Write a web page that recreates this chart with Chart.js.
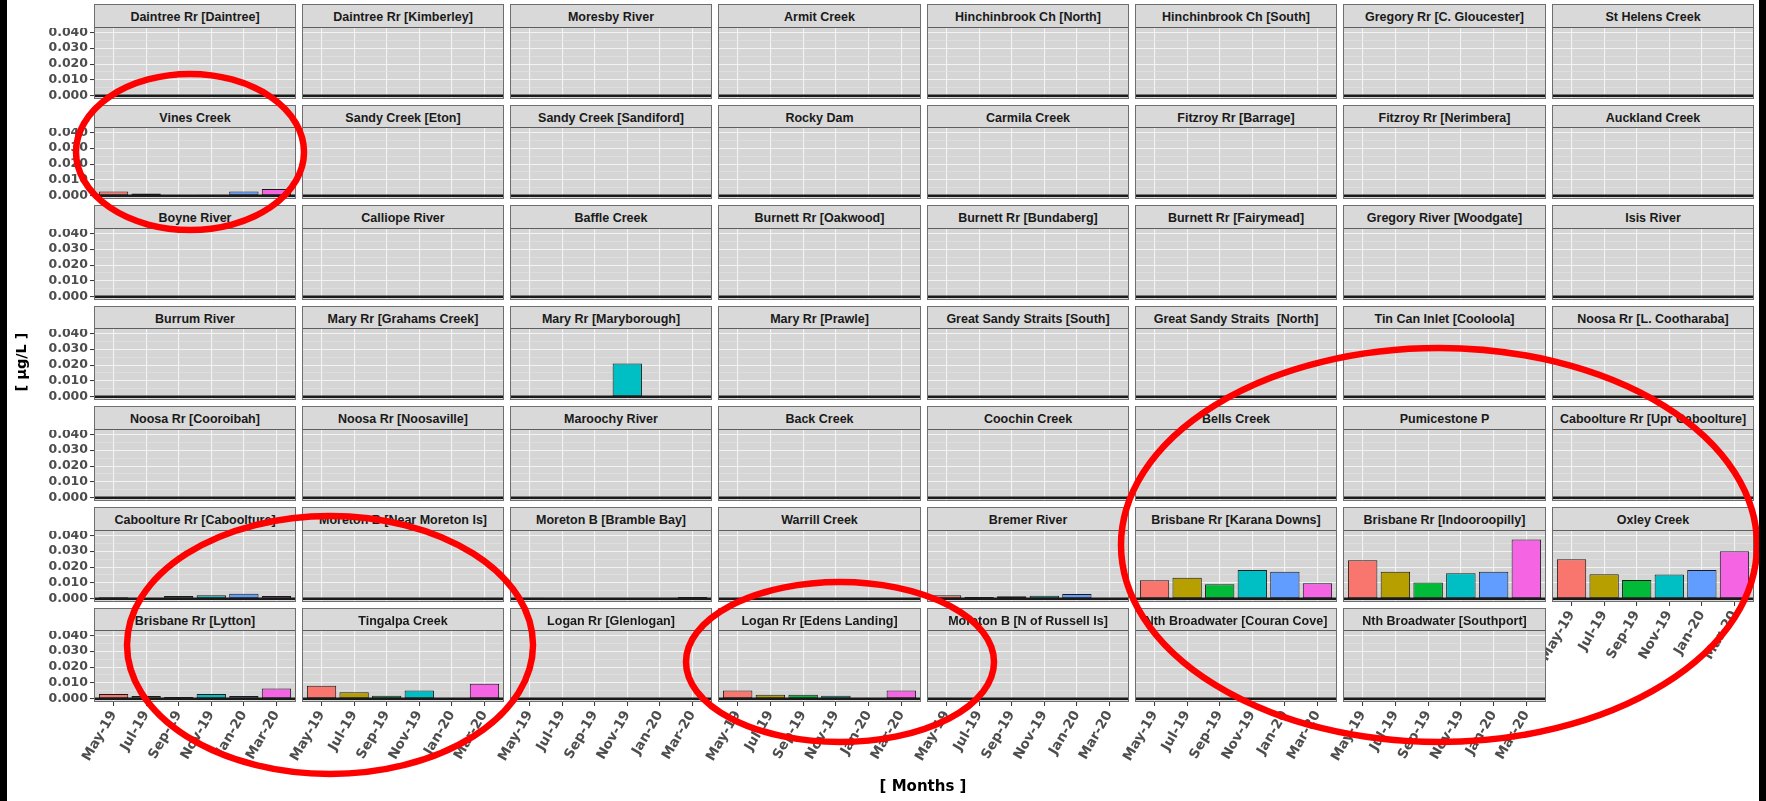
<!DOCTYPE html>
<html>
<head>
<meta charset="utf-8">
<script src="https://cdn.jsdelivr.net/npm/chart.js@4.4.0/dist/chart.umd.min.js"></script>
<style>
  body { margin: 0; background: #fff; }
  #page { position: relative; width: 1766px; height: 801px; overflow: hidden; background: #fff; font-family: 'Liberation Sans', Arial, sans-serif; }
  .strip { position: absolute; box-sizing: border-box; background: #d9d9d9; border-bottom: 1.5px solid #5e5e5e; padding-top: 4px; font-weight: bold; font-size: 12.5px; color: #1a1a1a; text-align: center; white-space: pre; z-index: 2; }
  .frame { position: absolute; box-sizing: border-box; border: 1.5px solid #6e6e6e; z-index: 3; }
  canvas.panel { position: absolute; z-index: 1; }
  .edge { position: absolute; top: 0; height: 801px; background: #000; z-index: 5; }
  .axis-title { position: absolute; font-family: 'DejaVu Sans', sans-serif; font-weight: bold; color: #000; white-space: pre; z-index: 2; }
  #marks { position: absolute; left: 0; top: 0; z-index: 4; pointer-events: none; }
</style>
</head>
<body>
<div id="page">
  <div class="edge" style="left:0;width:7px"></div>
  <div class="edge" style="left:1759px;width:7px"></div>
  <div class="axis-title" style="font-size:14.5px;left:21px;top:362px;transform:translate(-50%,-50%) rotate(-90deg)">[ µg/L ]</div>
  <div class="axis-title" style="font-size:15px;left:923px;top:786px;transform:translate(-50%,-50%)">[ Months ]</div>
  <svg id="marks" width="1766" height="801">
    <g fill="none" stroke="#ff0000" stroke-width="6.5">
      <ellipse cx="190" cy="152" rx="114" ry="78"/>
      <ellipse cx="330" cy="645" rx="203" ry="129"/>
      <ellipse cx="840" cy="662" rx="154" ry="80"/>
      <ellipse cx="1439" cy="545" rx="318" ry="197"/>
    </g>
  </svg>
</div>
<script>
// sampling months (x categories)
const months = ['May-19', 'Jul-19', 'Sep-19', 'Nov-19', 'Jan-20', 'Mar-20'];
const yMajor = [0, 0.01, 0.02, 0.03, 0.04];
const yTickLabels = ['0.000', '0.010', '0.020', '0.030', '0.040'];
const barColors = ['#F8766D', '#B79F00', '#00BA38', '#00BFC4', '#619CFF', '#F564E3'];

// facets, row by row, values in µg/L
const sitesRow1 = ['Daintree Rr [Daintree]', 'Daintree Rr [Kimberley]', 'Moresby River', 'Armit Creek',
  'Hinchinbrook Ch [North]', 'Hinchinbrook Ch [South]', 'Gregory Rr [C. Gloucester]', 'St Helens Creek'];
const valuesRow1 = [
  [0, 0, 0, 0, 0, 0], [0, 0, 0, 0, 0, 0], [0, 0, 0, 0, 0, 0], [0, 0, 0, 0, 0, 0],
  [0, 0, 0, 0, 0, 0], [0, 0, 0, 0, 0, 0], [0, 0, 0, 0, 0, 0], [0, 0, 0, 0, 0, 0]];

const sitesRow2 = ['Vines Creek', 'Sandy Creek [Eton]', 'Sandy Creek [Sandiford]', 'Rocky Dam',
  'Carmila Creek', 'Fitzroy Rr [Barrage]', 'Fitzroy Rr [Nerimbera]', 'Auckland Creek'];
const valuesRow2 = [
  [0.0027, 0.0015, 0, 0.0006, 0.0027, 0.0043], [0, 0, 0, 0, 0, 0], [0, 0, 0, 0, 0, 0], [0, 0, 0, 0, 0, 0],
  [0, 0, 0, 0, 0, 0], [0, 0, 0, 0, 0, 0], [0, 0, 0, 0, 0, 0], [0, 0, 0, 0, 0, 0]];

const sitesRow3 = ['Boyne River', 'Calliope River', 'Baffle Creek', 'Burnett Rr [Oakwood]',
  'Burnett Rr [Bundaberg]', 'Burnett Rr [Fairymead]', 'Gregory River [Woodgate]', 'Isis River'];
const valuesRow3 = [
  [0, 0, 0, 0, 0, 0], [0, 0, 0, 0, 0, 0], [0, 0, 0, 0, 0, 0], [0, 0, 0, 0, 0, 0],
  [0, 0, 0, 0, 0, 0], [0, 0, 0, 0, 0, 0], [0, 0, 0, 0, 0, 0], [0, 0, 0, 0, 0, 0]];

const sitesRow4 = ['Burrum River', 'Mary Rr [Grahams Creek]', 'Mary Rr [Maryborough]', 'Mary Rr [Prawle]',
  'Great Sandy Straits [South]', 'Great Sandy Straits  [North]', 'Tin Can Inlet [Cooloola]', 'Noosa Rr [L. Cootharaba]'];
const valuesRow4 = [
  [0, 0, 0, 0, 0, 0], [0, 0, 0, 0, 0, 0], [0, 0, 0, 0.021, 0, 0], [0, 0, 0, 0, 0, 0],
  [0, 0, 0, 0, 0, 0], [0, 0, 0, 0, 0, 0], [0, 0, 0, 0, 0, 0], [0, 0, 0, 0, 0, 0]];

const sitesRow5 = ['Noosa Rr [Cooroibah]', 'Noosa Rr [Noosaville]', 'Maroochy River', 'Back Creek',
  'Coochin Creek', 'Bells Creek', 'Pumicestone P', 'Caboolture Rr [Upr Caboolture]'];
const valuesRow5 = [
  [0, 0, 0, 0, 0, 0], [0, 0, 0, 0, 0, 0], [0, 0, 0, 0, 0.0005, 0], [0, 0, 0, 0.0005, 0, 0.0005],
  [0, 0, 0, 0.0004, 0, 0.0004], [0, 0, 0, 0, 0, 0.0005], [0, 0, 0, 0, 0, 0.0005], [0, 0, 0, 0, 0, 0]];

const sitesRow6 = ['Caboolture Rr [Caboolture]', 'Moreton B [Near Moreton Is]', 'Moreton B [Bramble Bay]', 'Warrill Creek',
  'Bremer River', 'Brisbane Rr [Karana Downs]', 'Brisbane Rr [Indooroopilly]', 'Oxley Creek'];
const valuesRow6 = [
  [0.001, 0, 0.0017, 0.0023, 0.0032, 0.0017], [0, 0, 0, 0, 0, 0],
  [0.0006, 0, 0, 0.0005, 0.0005, 0.0012], [0, 0, 0, 0, 0, 0],
  [0.0022, 0.0012, 0.0016, 0.002, 0.003, 0.0004], [0.0117, 0.0132, 0.0092, 0.0182, 0.017, 0.0098],
  [0.0243, 0.017, 0.0103, 0.0161, 0.017, 0.0373], [0.0249, 0.0155, 0.0119, 0.0153, 0.0182, 0.030]];

const sitesRow7 = ['Brisbane Rr [Lytton]', 'Tingalpa Creek', 'Logan Rr [Glenlogan]', 'Logan Rr [Edens Landing]',
  'Moreton B [N of Russell Is]', 'Nth Broadwater [Couran Cove]', 'Nth Broadwater [Southport]'];
const valuesRow7 = [
  [0.003, 0.0018, 0.0012, 0.003, 0.0018, 0.0065], [0.0082, 0.0042, 0.002, 0.0053, 0, 0.0095],
  [0, 0, 0, 0, 0, 0], [0.0052, 0.0025, 0.0026, 0.002, 0, 0.0052],
  [0, 0, 0, 0, 0, 0], [0, 0, 0, 0, 0, 0], [0, 0, 0, 0, 0, 0]];

const rows = [
  [sitesRow1, valuesRow1], [sitesRow2, valuesRow2], [sitesRow3, valuesRow3], [sitesRow4, valuesRow4],
  [sitesRow5, valuesRow5], [sitesRow6, valuesRow6], [sitesRow7, valuesRow7]];

// layout of the facet grid
const COL0 = 93.5, COL_STEP = 208.3, PANEL_W = 202.3;
const ROW0 = 4, ROW_STEP = 100.6, STRIP_H = 23.5, PLOT_H = 71;
const NCOL = 8;
const total = rows.reduce((n, r) => n + r[0].length, 0);

const yFont = { family: 'DejaVu Sans', size: 12.5, weight: 'bold' };
const xFont = { family: 'DejaVu Sans', size: 13.5, weight: 'bold' };
const yGrid = yMajor.flatMap((v, i) => i ? [(v + yMajor[i - 1]) / 2, v] : [v]);
const isMajor = v => yMajor.some(m => Math.abs(m - v) < 1e-9);

const panelBits = {
  id: 'panelBits',
  beforeDraw(chart) {
    const { ctx, chartArea: a } = chart;
    ctx.save();
    ctx.fillStyle = '#d5d5d5';
    ctx.fillRect(a.left, a.top, a.width, a.height);
    ctx.restore();
  },
  afterDatasetsDraw(chart) {
    const { ctx, chartArea: a, scales } = chart;
    const py = scales.y.getPixelForValue(0);
    ctx.save();
    ctx.strokeStyle = '#1a1a1a';
    ctx.lineWidth = 2.4;
    ctx.beginPath();
    ctx.moveTo(a.left, py);
    ctx.lineTo(a.right, py);
    ctx.stroke();
    ctx.restore();
  }
};

const page = document.getElementById('page');

rows.forEach(([sites, values], r) => {
  sites.forEach((site, c) => {
    const idx = r * NCOL + c;
    const isBottom = idx + NCOL >= total;
    const left = Math.round(COL0 + c * COL_STEP);
    const right = Math.round(COL0 + c * COL_STEP + PANEL_W);
    const w = right - left;
    const top = Math.round(ROW0 + r * ROW_STEP);
    const stripBottom = Math.round(ROW0 + r * ROW_STEP + STRIP_H);
    const bottom = Math.round(ROW0 + r * ROW_STEP + STRIP_H + PLOT_H);
    const plotH = bottom - stripBottom;

    const strip = document.createElement('div');
    strip.className = 'strip';
    strip.style.cssText = `left:${left}px;top:${top}px;width:${w}px;height:${stripBottom - top}px;line-height:${stripBottom - top - 5}px`;
    strip.textContent = site;
    page.appendChild(strip);

    const frame = document.createElement('div');
    frame.className = 'frame';
    frame.style.cssText = `left:${left}px;top:${top}px;width:${w}px;height:${bottom - top}px`;
    page.appendChild(frame);

    const leftPad = c === 0 ? 80 : (isBottom ? 24 : 0);
    const bottomPad = isBottom ? 90 : 0;
    const canvas = document.createElement('canvas');
    canvas.className = 'panel';
    canvas.width = w + leftPad;
    canvas.height = plotH + bottomPad;
    canvas.style.left = (left - leftPad) + 'px';
    canvas.style.top = stripBottom + 'px';
    page.appendChild(canvas);

    new Chart(canvas, {
      type: 'bar',
      data: {
        datasets: [{
          data: values[c].map((v, i) => ({ x: i + 1, y: v })),
          backgroundColor: barColors,
          borderColor: '#1a1a1a',
          borderWidth: 1,
          borderSkipped: false,
          barPercentage: 0.9,
          categoryPercentage: 1
        }]
      },
      options: {
        responsive: false,
        animation: false,
        events: [],
        layout: { padding: 0 },
        plugins: { legend: { display: false }, tooltip: { enabled: false } },
        scales: {
          x: {
            type: 'linear', min: 0.4, max: 6.6, offset: false,
            afterBuildTicks: s => { s.ticks = months.map((m, i) => ({ value: i + 1 })); },
            afterFit: s => { s.height = bottomPad; s.paddingLeft = 0; s.paddingRight = 0; },
            border: { display: false },
            grid: { offset: false, color: '#f3f3f3', lineWidth: 1.1, drawTicks: isBottom, tickLength: 4, tickColor: '#333', tickWidth: 1 },
            ticks: {
              display: isBottom, autoSkip: false, minRotation: 60, maxRotation: 60, padding: 2,
              color: '#4d4d4d', font: xFont,
              callback: v => months[Math.round(v) - 1]
            }
          },
          y: {
            min: -0.002, max: 0.0427,
            afterBuildTicks: s => { s.ticks = yGrid.map(v => ({ value: v })); },
            afterFit: s => { s.width = leftPad; s.paddingTop = 0; s.paddingBottom = 0; },
            border: { display: false },
            grid: {
              color: ctx => isMajor(ctx.tick.value) ? '#f3f3f3' : '#e4e4e4',
              lineWidth: ctx => isMajor(ctx.tick.value) ? 1.1 : 0.6,
              drawTicks: c === 0, tickLength: 4, tickWidth: 1,
              tickColor: ctx => isMajor(ctx.tick.value) ? '#333' : 'rgba(0,0,0,0)'
            },
            ticks: {
              display: c === 0, autoSkip: false, padding: 2, color: '#4d4d4d', font: yFont,
              callback: v => {
                const i = yMajor.findIndex(m => Math.abs(m - v) < 1e-9);
                return i >= 0 ? yTickLabels[i] : '';
              }
            }
          }
        }
      },
      plugins: [panelBits]
    });
  });
});
</script>
</body>
</html>
